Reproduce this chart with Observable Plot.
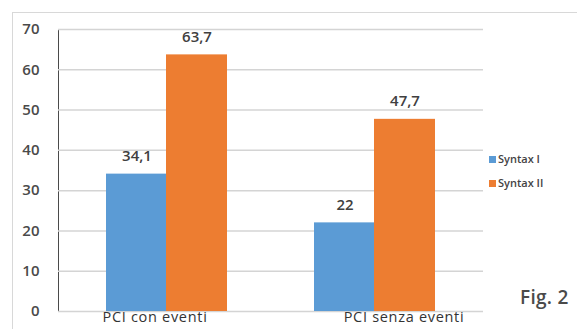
<!DOCTYPE html>
<html>
<head>
<meta charset="utf-8">
<script src="https://cdn.jsdelivr.net/npm/d3@7"></script>
<script src="https://cdn.jsdelivr.net/npm/@observablehq/plot@0.6"></script>
<style>
  html, body { margin: 0; padding: 0; background: #fff; }
  #wrap { position: relative; width: 577px; height: 329px; overflow: hidden; font-family: "Open Sans", sans-serif; }
  #border { position: absolute; left: 12px; top: 12px; width: 580px; height: 330px; border: 1.5px solid #d8d8d8; box-sizing: border-box; }
  #chart { position: absolute; left: 0; top: 0; }
  .leg { position: absolute; font-size: 11px; font-weight: 600; color: #444; line-height: 12px; white-space: nowrap; }
  .leg span { display: inline-block; width: 7px; height: 7px; margin-right: 2px; vertical-align: 0px; }
  #fig { position: absolute; left: 520px; top: 284px; font-size: 19px; font-weight: 600; color: #4a4a4a; letter-spacing: 0.3px; }
</style>
</head>
<body>
<div id="wrap">
  <div id="border"></div>
  <div id="chart"></div>
  <div id="legend"></div>
  <div id="fig">Fig. 2</div>
</div>
<script>
const categories = ["PCI con eventi", "PCI senza eventi"];
const series = ["Syntax I", "Syntax II"];
const valuesI = [34.1, 22];
const valuesII = [63.7, 47.7];
const yTicks = [0, 10, 20, 30, 40, 50, 60, 70];
const colors = ["#5b9bd5", "#ed7d31"];

const rows = categories.flatMap((c, i) => [
  {category: c, series: series[0], value: valuesI[i]},
  {category: c, series: series[1], value: valuesII[i]}
]);
const rowsI = rows.filter(d => d.series === series[0]);
const rowsII = rows.filter(d => d.series === series[1]);
const fmt = d => String(d.value).replace(".", ",");

const chart = Plot.plot({
  width: 577,
  height: 329,
  marginLeft: 58,
  marginRight: 94,
  marginTop: 29,
  marginBottom: 18,
  style: {fontFamily: "Open Sans, sans-serif", fontSize: "15px", fontWeight: 600, color: "#4a4a4a", background: "transparent"},
  x: {domain: categories, paddingInner: 0.42, paddingOuter: 0.23, axis: null},
  y: {domain: [0, 70], ticks: yTicks, tickSize: 0, tickPadding: 19, label: null, line: true},
  color: {domain: series, range: colors},
  marks: [
    Plot.ruleY(yTicks, {stroke: "#d4d4d4", strokeWidth: 1.5}),
    Plot.barY(rowsI, {x: "category", y: "value", fill: "series", insetRight: 60}),
    Plot.barY(rowsII, {x: "category", y: "value", fill: "series", insetLeft: 60}),
    Plot.text(rowsI, {x: "category", y: "value", text: fmt, dx: -30, dy: -18, fontSize: 15, fontWeight: 600, fill: "#404040"}),
    Plot.text(rowsII, {x: "category", y: "value", text: fmt, dx: 30, dy: -18, fontSize: 15, fontWeight: 600, fill: "#404040"}),
    Plot.text(categories.slice(0, 1), {x: d => d, frameAnchor: "bottom", dy: 10, dx: -12, fontSize: 14.5, fontWeight: 500, fill: "#333", style: "letter-spacing:0.7px"}),
    Plot.text(categories.slice(1), {x: d => d, frameAnchor: "bottom", dy: 10, dx: 29, fontSize: 14.5, fontWeight: 500, fill: "#333"})
  ]
});
chart.querySelectorAll('[aria-label="y-axis"] path, [aria-label="y-axis"] line').forEach(el => { el.setAttribute("stroke", "#c8c8c8"); el.setAttribute("stroke-width", "1.5"); });
chart.querySelectorAll('[aria-label="text"]').forEach((g, i) => { if (i >= 2) g.setAttribute("letter-spacing", "0.7"); });
document.getElementById("chart").appendChild(chart);

const legend = document.getElementById("legend");
series.forEach((s, i) => {
  const div = document.createElement("div");
  div.className = "leg";
  div.style.left = "489px";
  div.style.top = (153 + i * 24) + "px";
  div.innerHTML = `<span style="background:${colors[i]}"></span>`;
  div.appendChild(document.createTextNode(s));
  legend.appendChild(div);
});
</script>
</body>
</html>
